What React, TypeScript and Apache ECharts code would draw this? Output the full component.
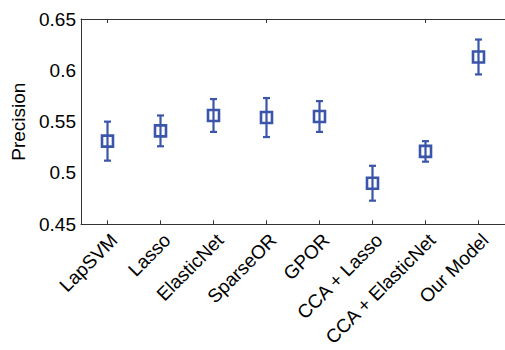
import React, { useEffect, useRef } from "react";
import * as echarts from "echarts";

const categories = ["LapSVM", "Lasso", "ElasticNet", "SparseOR", "GPOR", "CCA + Lasso", "CCA + ElasticNet", "Our Model"];
const means = [0.531, 0.541, 0.556, 0.554, 0.555, 0.490, 0.521, 0.613];
const errors = [0.019, 0.015, 0.016, 0.019, 0.015, 0.017, 0.010, 0.017];
const yTicks = [0.45, 0.5, 0.55, 0.6, 0.65];

const BLUE = "#3a55a9";
const AX = "#333";
const FONT = "Liberation Sans";
const FS = 19;

export default function App() {
  const ref = useRef<HTMLDivElement>(null);
  useEffect(() => {
    if (!ref.current) return;
    const chart = echarts.init(ref.current, undefined, { renderer: "svg" });
    const data = categories.map((c, i) => [i, means[i], errors[i]]);
    chart.setOption({
      animation: false,
      grid: { left: 81, top: 19, bottom: 122, right: -10 },
      xAxis: [
        {
          type: "category",
          data: categories,
          position: "bottom",
          boundaryGap: true,
          axisLine: { show: true, lineStyle: { color: AX, width: 1 } },
          axisTick: { show: true, inside: true, alignWithLabel: true, length: 4, lineStyle: { color: AX } },
          axisLabel: { rotate: 45, fontFamily: FONT, fontSize: FS, color: "#000", margin: 6, interval: 0, align: "right", verticalAlign: "top" },
          splitLine: { show: false },
        },
        {
          type: "category",
          data: categories,
          position: "top",
          boundaryGap: true,
          axisLine: { show: true, lineStyle: { color: AX, width: 1 } },
          axisTick: { show: true, inside: true, alignWithLabel: true, length: 4, lineStyle: { color: AX } },
          axisLabel: { show: false },
          splitLine: { show: false },
        },
      ],
      yAxis: {
        type: "value",
        min: 0.45,
        max: 0.65,
        interval: 0.05,
        name: "Precision",
        nameLocation: "middle",
        nameGap: 49,
        nameTextStyle: { fontFamily: FONT, fontSize: FS, color: "#000" },
        axisLine: { show: true, lineStyle: { color: AX, width: 1 } },
        axisTick: { show: false },
        axisLabel: {
          fontFamily: FONT,
          fontSize: FS,
          color: "#000",
          margin: 5,
          formatter: (v: number) => {
            const t = yTicks.find((x) => Math.abs(x - v) < 1e-6);
            return t === undefined ? "" : String(Number(t.toFixed(2)));
          },
        },
        splitLine: { show: false },
      },
      series: [
        {
          type: "custom",
          xAxisIndex: 0,
          data,
          renderItem: (params: any, api: any) => {
            const i = api.value(0);
            const m = api.value(1);
            const e = api.value(2);
            const top = api.coord([i, m + e]);
            const bot = api.coord([i, m - e]);
            const mid = api.coord([i, m]);
            const cap = 3.5;
            const s = 5.5;
            const ls = { stroke: BLUE, lineWidth: 2.2, fill: "none" };
            return {
              type: "group",
              children: [
                { type: "line", shape: { x1: top[0], y1: top[1], x2: bot[0], y2: bot[1] }, style: ls },
                { type: "line", shape: { x1: top[0] - cap, y1: top[1], x2: top[0] + cap, y2: top[1] }, style: ls },
                { type: "line", shape: { x1: bot[0] - cap, y1: bot[1], x2: bot[0] + cap, y2: bot[1] }, style: ls },
                { type: "rect", shape: { x: mid[0] - s, y: mid[1] - s, width: 2 * s, height: 2 * s }, style: { stroke: BLUE, lineWidth: 2.6, fill: "none" } },
              ],
            };
          },
        },
      ],
    });
    return () => chart.dispose();
  }, []);
  return <div ref={ref} style={{ width: 505, height: 350, position: "absolute", left: 0, top: 0 }} />;
}
